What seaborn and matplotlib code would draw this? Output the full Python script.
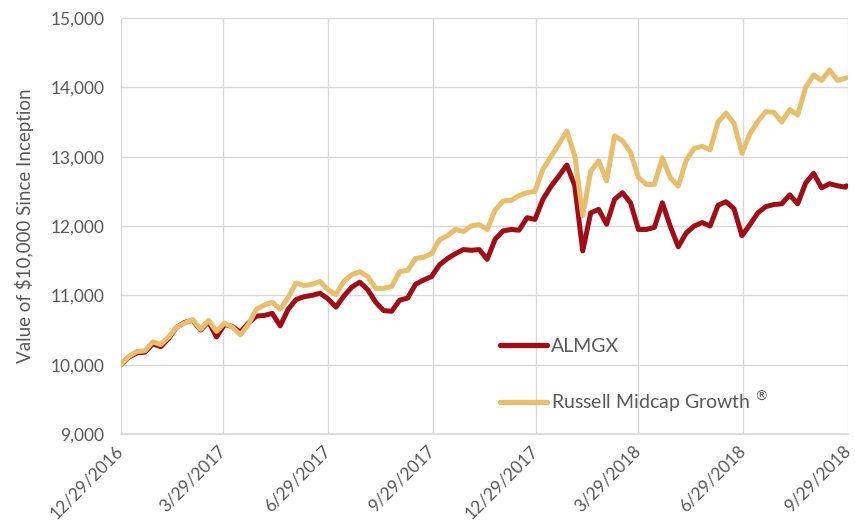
import pandas as pd
import matplotlib.pyplot as plt
import seaborn as sns

# Weekly closes (value of $10,000 since inception)
dates = [
    "2016-12-29", "2017-01-05", "2017-01-12", "2017-01-19", "2017-01-26", "2017-02-02", "2017-02-09",
    "2017-02-16", "2017-02-23", "2017-03-02", "2017-03-09", "2017-03-16", "2017-03-23", "2017-03-30",
    "2017-04-06", "2017-04-13", "2017-04-20", "2017-04-27", "2017-05-04", "2017-05-11", "2017-05-18",
    "2017-05-25", "2017-06-01", "2017-06-08", "2017-06-15", "2017-06-22", "2017-06-29", "2017-07-06",
    "2017-07-13", "2017-07-20", "2017-07-27", "2017-08-03", "2017-08-10", "2017-08-17", "2017-08-24",
    "2017-08-31", "2017-09-07", "2017-09-14", "2017-09-21", "2017-09-28", "2017-10-05", "2017-10-12",
    "2017-10-19", "2017-10-26", "2017-11-02", "2017-11-09", "2017-11-16", "2017-11-23", "2017-11-30",
    "2017-12-07", "2017-12-14", "2017-12-21", "2017-12-28", "2018-01-04", "2018-01-11", "2018-01-18",
    "2018-01-25", "2018-02-01", "2018-02-08", "2018-02-15", "2018-02-22", "2018-03-01", "2018-03-08",
    "2018-03-15", "2018-03-22", "2018-03-29", "2018-04-05", "2018-04-12", "2018-04-19", "2018-04-26",
    "2018-05-03", "2018-05-10", "2018-05-17", "2018-05-24", "2018-05-31", "2018-06-07", "2018-06-14",
    "2018-06-21", "2018-06-28", "2018-07-05", "2018-07-12", "2018-07-19", "2018-07-26", "2018-08-02",
    "2018-08-09", "2018-08-16", "2018-08-23", "2018-08-30", "2018-09-06", "2018-09-13", "2018-09-20",
    "2018-09-27", "2018-09-28",
]

almgx = [
    10000, 10110, 10170, 10180, 10300, 10260, 10380, 10540, 10610, 10640, 10500, 10620, 10400, 10580,
    10550, 10470, 10600, 10700, 10710, 10740, 10560, 10800, 10940, 10980, 11000, 11030, 10950, 10830,
    10990, 11120, 11190, 11080, 10900, 10780, 10770, 10930, 10960, 11160, 11220, 11270, 11440, 11530,
    11600, 11660, 11650, 11660, 11520, 11810, 11930, 11950, 11940, 12120, 12095, 12385, 12570, 12720,
    12880, 12580, 11640, 12190, 12240, 12025, 12385, 12480, 12335, 11950, 11950, 11980, 12335, 11995,
    11700, 11900, 12000, 12050, 12000, 12300, 12350, 12250, 11860, 12020, 12190, 12280, 12310, 12320,
    12450, 12320, 12620, 12760, 12550, 12610, 12580, 12560, 12580,
]

russell = [
    10000, 10120, 10190, 10200, 10330, 10290, 10400, 10540, 10600, 10650, 10510, 10640, 10480, 10600,
    10540, 10430, 10580, 10800, 10860, 10900, 10800, 10970, 11180, 11140, 11160, 11200, 11080, 11010,
    11200, 11300, 11340, 11270, 11100, 11100, 11130, 11340, 11360, 11530, 11550, 11600, 11800, 11860,
    11950, 11920, 12000, 12020, 11950, 12230, 12360, 12370, 12440, 12480, 12500, 12820, 13000, 13180,
    13370, 13010, 12150, 12790, 12940, 12650, 13300, 13230, 13060, 12700, 12600, 12600, 12985, 12695,
    12575, 12950, 13120, 13150, 13100, 13500, 13630, 13480, 13050, 13330, 13510, 13650, 13640, 13500,
    13680, 13600, 14000, 14180, 14100, 14250, 14100, 14130, 14140,
]

series_names = ["ALMGX", r"Russell Midcap Growth $^{\circledR}$"]
tick_dates = ["2016-12-29", "2017-03-29", "2017-06-29", "2017-09-29",
              "2017-12-29", "2018-03-29", "2018-06-29", "2018-09-29"]
y_ticks = [9000, 10000, 11000, 12000, 13000, 14000, 15000]

df = pd.DataFrame({
    "date": pd.to_datetime(dates * 2),
    "value": almgx + russell,
    "series": [series_names[0]] * len(almgx) + [series_names[1]] * len(russell),
})

sns.set_theme(style="whitegrid")
plt.rcParams["font.family"] = ["Lato", "DejaVu Sans"]
plt.rcParams["mathtext.fontset"] = "dejavusans"

fig = plt.figure(figsize=(8.55, 5.25), dpi=100)
ax = fig.add_axes([0.1415, 0.1733, 0.850, 0.7924])

palette = {series_names[0]: "#A00D14", series_names[1]: "#E8BE6C"}
sns.lineplot(data=df, x="date", y="value", hue="series", palette=palette,
             linewidth=3.6, ax=ax, legend=True)

# Axis formatting (Excel look)
ticks = pd.to_datetime(tick_dates)
ax.set_xlim(ticks[0], ticks[-1])
ax.set_xticks(ticks)
ax.set_xticklabels([f"{d.month}/{d.day}/{d.year}" for d in ticks],
                   rotation=45, ha="right", va="center", rotation_mode="anchor")
ax.set_ylim(9000, 15000)
ax.set_yticks(y_ticks)
ax.set_yticklabels([f"{v:,}" for v in y_ticks])
ax.set_xlabel("")
ax.set_ylabel("Value of $10,000 Since Inception", fontsize=13.5, color="#595959", labelpad=12)
ax.tick_params(axis="y", labelsize=12.5, colors="#595959", length=0, pad=12)
ax.tick_params(axis="x", labelsize=12.5, colors="#595959", length=0, pad=10)

ax.grid(True, color="#D9D9D9", linewidth=1.0)
for side in ["top", "right", "left"]:
    ax.spines[side].set_visible(False)
ax.spines["bottom"].set_color("#D9D9D9")

leg = ax.legend(loc="upper left", bbox_to_anchor=(0.522, 0.232), frameon=False,
                fontsize=14, handlelength=2.4, handletextpad=0.2, labelspacing=1.75,
                borderpad=0, borderaxespad=0)
for text in leg.get_texts():
    text.set_color("#595959")
for line in leg.get_lines():
    line.set_linewidth(3.8)

fig.savefig("out.png", dpi=100)
